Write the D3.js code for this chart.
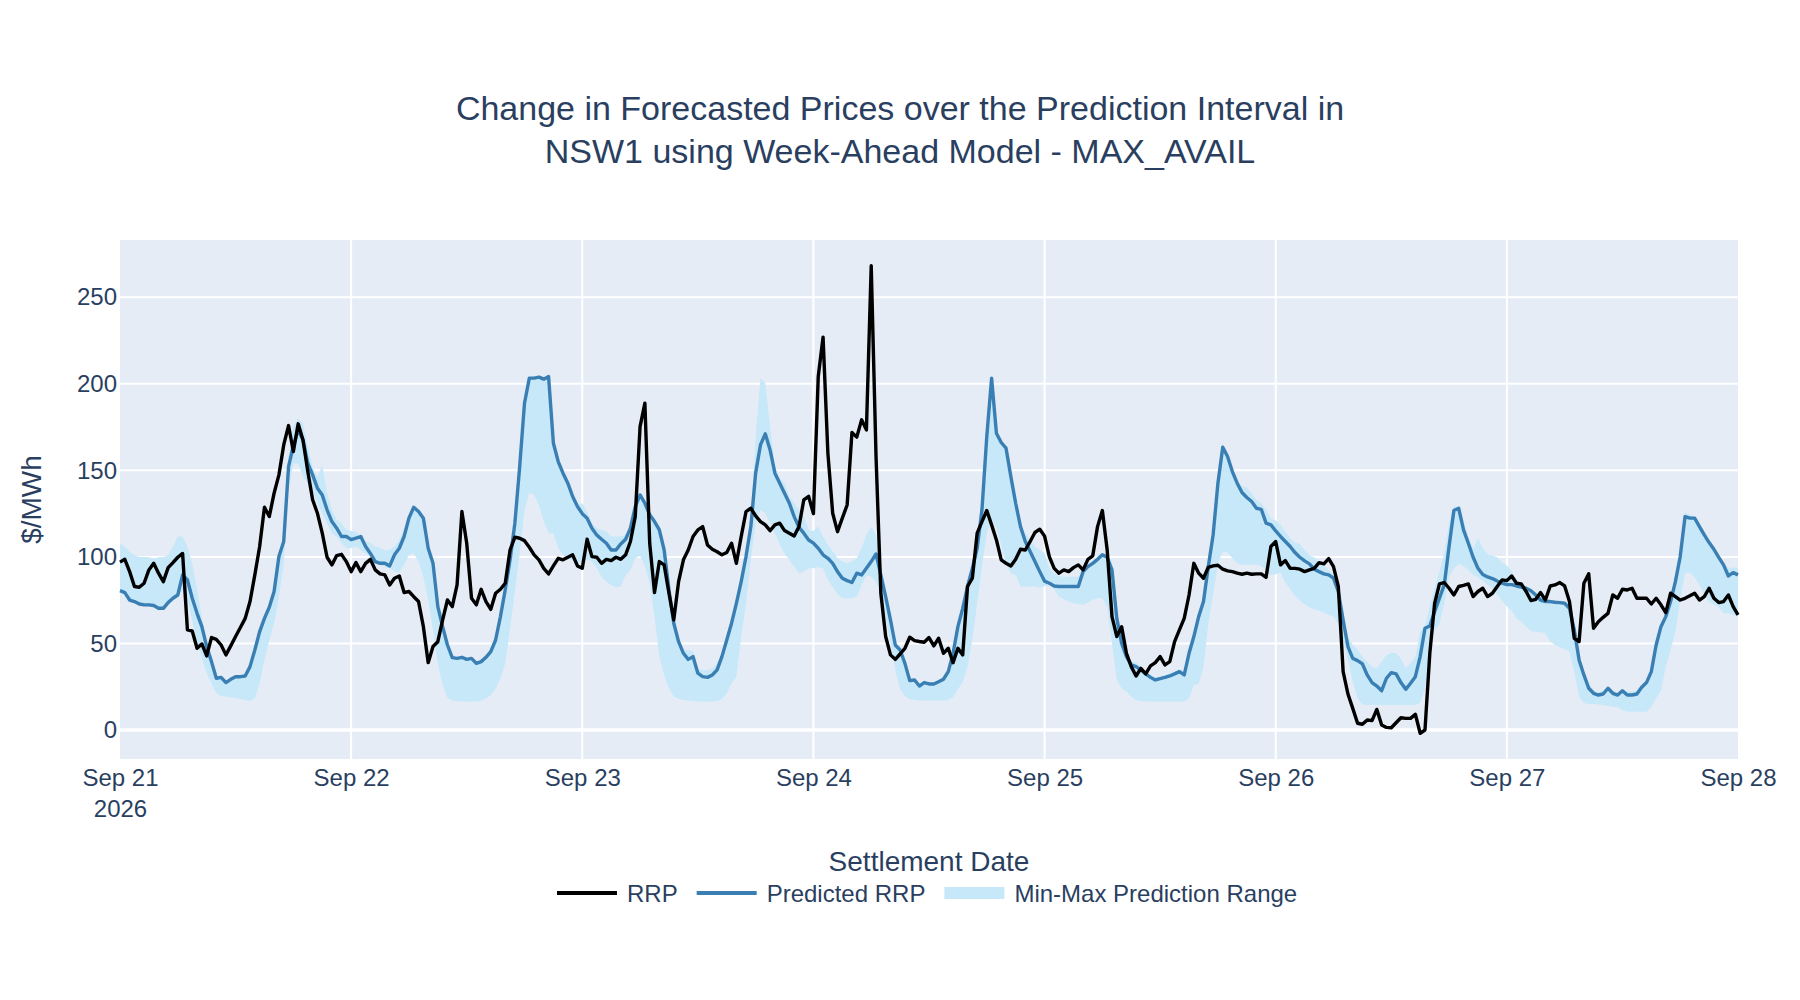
<!DOCTYPE html>
<html>
<head>
  <meta charset="utf-8">
  <script src="https://d3js.org/d3.v7.min.js"></script>
  <style>
    body {
      margin: 0;
      background: #fff;
      font-family: 'Liberation Sans', Arial, sans-serif;
    }
  </style>
</head>
<body>
  <div id="my_dataviz"></div>
  <script>
    // half-hourly values from Sep 21 00:00 to Sep 28 00:00, one row = 6 hours
    var rrp = [
      97, 98.6, 91.5, 82.9, 82.5, 84.8, 92.5, 96.3, 90.6, 85.7, 93.8, 96.7,
      99.8, 102, 57.8, 57.2, 47.2, 49.7, 42.8, 53.4, 52.4, 49.1, 43.4, 48.6,
      54, 59.2, 64.5, 74.2, 89.6, 106, 128.7, 123.3, 136.8, 147.4, 164.7, 175.9,
      160.9, 176.9, 167.6, 149.3, 133, 125.2, 113.7, 99.8, 95.4, 100.8, 101.5, 97.3,
      // Sep 22
      91.5, 96.7, 91.5, 96.3, 98.6, 92.5, 90.2, 89.6, 83.8, 87.7, 89, 79.4,
      80, 77, 74.2, 59.7, 38.9, 48.2, 51, 63.6, 75.1, 71.3, 83.8, 126.2,
      107.9, 76.1, 72.3, 81.3, 74.2, 69.7, 79, 81.3, 84.8, 104, 111.4, 110.8,
      109.4, 105.6, 101.2, 98.3, 93.4, 90.2, 94.8, 99.2, 98.3, 99.8, 101.2, 94.8,
      // Sep 23
      93.4, 110.2, 100.2, 99.8, 96.3, 98.6, 97.9, 99.8, 98.6, 101.2, 108.9, 123.3,
      175.3, 188.8, 107.9, 79.4, 97.3, 95.4, 79, 63.6, 85.7, 98.3, 104, 111.8,
      115.6, 117.5, 106.9, 104.4, 103, 101.2, 102.5, 107.9, 96.3, 111.8, 126.2, 128.1,
      123.7, 120.4, 118.5, 115.2, 118.5, 119.5, 115.2, 113.7, 112.1, 117.5, 133, 135,
      // Sep 24
      125, 204.2, 227, 160, 125.2, 114.6, 122.4, 130, 171.9, 169.2, 179.2, 173.4,
      268.2, 158, 79, 54, 43.4, 40.8, 43.9, 47.2, 53.6, 51.6, 51.1, 50.7,
      53.4, 48.6, 53, 44.3, 47.2, 38.9, 47.2, 43.4, 82.9, 87.7, 113.7, 120.4,
      126.8, 118.5, 109.8, 98.3, 96.3, 94.8, 98.6, 104.4, 104, 108.9, 114.1, 116,
      // Sep 25
      112, 100, 93.4, 90.6, 92.5, 91.5, 93.8, 95.4, 92.5, 98.6, 100.6, 117.5,
      126.8, 104, 65.5, 54, 59.7, 44.3, 36.6, 31.2, 35.6, 32.4, 37, 38.9,
      42.4, 37.6, 39.5, 51.1, 57.8, 64.5, 78, 96.3, 90.6, 87.7, 94, 94.8,
      95.2, 92.9, 91.9, 91.5, 90.6, 90, 90.6, 90, 90.2, 90.2, 88.2, 106,
      // Sep 26
      108.9, 95.4, 97.9, 93.4, 93.4, 92.9, 91.5, 92.5, 93.4, 96.7, 96, 99,
      94.4, 82.9, 33.7, 20.8, 12.5, 3.9, 3.3, 5.8, 5.4, 11.9, 2.9, 1.5,
      1.3, 4.2, 7.1, 6.7, 6.7, 9.1, -1.9, 0, 44.3, 73.2, 84.4, 85.2,
      81.9, 78, 82.9, 83.6, 84.4, 77.1, 80, 81.9, 77.1, 79, 82.9, 86.7,
      // Sep 27
      86.3, 89, 84.8, 84.4, 80, 74.8, 75.5, 79.4, 75.1, 83.2, 83.8, 85.2,
      83.2, 74.2, 53, 51.1, 84.8, 90.2, 58.8, 62.6, 65.1, 67.4, 78, 76.1,
      81.3, 80.9, 81.9, 76.1, 76.1, 76.1, 72.8, 76.1, 72.3, 67.8, 79, 77.1,
      75.1, 76.1, 77.5, 79, 75.1, 77.1, 81.9, 76.1, 73.6, 74.2, 78, 71.3,
      66.5
    ];

    var predicted = [
      80.5, 79.4, 75.1, 74.2, 72.8, 72.3, 72.3, 71.9, 70.3, 70.3, 73.6, 76.1,
      78, 89.6, 86.7, 76.1, 67.4, 59.7, 48.2, 39.5, 29.9, 30.4, 27.4, 29.3,
      30.8, 30.8, 31.2, 36.6, 46.2, 56.8, 64.5, 70.9, 80, 100.2, 108.9, 152.2,
      164.2, 173.4, 167.6, 154.1, 147.4, 139.7, 135.8, 127.2, 120.4, 116.6, 111.8, 111.8,
      // Sep 22
      110, 110.8, 111.8, 106, 102, 97.3, 96.3, 96.3, 94.8, 101.2, 105, 111.8,
      122.4, 128.7, 126.2, 122.4, 105, 96.3, 71.3, 59.7, 49.1, 41.8, 41.4, 42,
      40.8, 41.4, 38.5, 39.5, 42, 45.3, 52, 65.5, 81, 98.3, 119.5, 152.2,
      188.8, 203.3, 203.3, 203.9, 202.7, 204.2, 165.7, 155.1, 148.4, 142.6, 134.9, 129.1,
      // Sep 23
      125, 122.4, 116.6, 112.7, 110.2, 107.9, 104, 104, 107.5, 110.2, 116.6, 129.1,
      135.8, 131, 124.3, 120.4, 115.6, 104, 81, 61.7, 51, 44.3, 40.8, 42.4,
      32.8, 30.8, 30.4, 31.8, 34.7, 42.4, 52, 61.7, 73.2, 85.7, 100.2, 117.5,
      148.4, 164.7, 171.1, 161.8, 148.4, 142.6, 136.8, 131, 123.3, 117.1, 113.7, 109.8,
      // Sep 24
      108, 105, 101.2, 99.2, 96.3, 91.5, 87.7, 86.3, 85.2, 90.6, 89.6, 93.4,
      97.3, 101.7, 89.6, 77.1, 63.6, 49.1, 46.2, 38.5, 28.5, 28.9, 25.4, 27.4,
      26.6, 26.6, 27.9, 29.3, 33.7, 44.3, 59.7, 70.3, 82.9, 93.4, 105, 127.2,
      169.6, 203.3, 171.5, 166.1, 162.8, 146.4, 131, 117.5, 108.9, 103.1, 97.3, 91.5,
      // Sep 25
      86, 84.8, 83.2, 82.9, 82.9, 82.9, 82.9, 82.9, 91.5, 94.4, 96.3, 98.6,
      101.2, 99.8, 92.5, 64.5, 50.1, 42.4, 37.6, 36.6, 34.7, 32.4, 30.4, 28.9,
      29.7, 30.4, 31.2, 32.4, 33.7, 31.8, 44.3, 54, 65.5, 74.2, 94.4, 112.7,
      142.6, 163.4, 158, 149.3, 142.6, 137.2, 134.3, 132, 128.1, 127.5, 119.5, 118.5,
      // Sep 26
      115, 111.8, 108.9, 106, 102.5, 99.8, 97.7, 96, 92.9, 91.5, 90.2, 89.6,
      87.7, 80, 63.6, 48.2, 41.4, 40.1, 38.2, 31.8, 27.4, 25.4, 22.7, 29.9,
      33.1, 32.4, 27.4, 23.5, 27, 30.8, 42.4, 58.8, 60.1, 68.4, 76.1, 83.8,
      106, 126.8, 128.1, 115.6, 107.9, 99.8, 93.4, 89.8, 88.4, 87.5, 86.1, 84.8,
      // Sep 27
      84, 84, 83.2, 82.5, 81.9, 80.5, 78, 75.1, 74.2, 74.2, 73.8, 73.6,
      73.2, 70.3, 57.8, 40.5, 31.8, 24.1, 21.2, 20.2, 20.8, 24.1, 21.2, 20.2,
      22.7, 20.2, 20.2, 20.8, 24.7, 27.4, 33.7, 49.1, 59.7, 65.5, 74.2, 85.7,
      100.2, 123.3, 122.4, 122.4, 117.5, 112.7, 108.3, 104.4, 99.8, 95.4, 89, 90.9,
      89.6
    ];

    var rangeMax = [
      107.9, 106, 103, 101, 100, 100, 99.8, 99, 99.8, 100, 100.6, 106,
      111.8, 111.8, 106, 96, 81, 65.5, 52, 40.5, 30.8, 30.8, 28, 30,
      31.8, 31.8, 31.8, 37.6, 46.2, 56.8, 65.5, 73.2, 82, 100, 110, 158,
      175.3, 180, 177, 163.8, 152, 146, 153, 136.8, 127.2, 121.4, 119.5, 115.6,
      // Sep 22
      115, 114.6, 111.8, 108.9, 108, 106, 105, 104, 104, 106, 109.8, 115.6,
      124.3, 129.5, 126.2, 122.4, 105, 96.3, 71.3, 59.7, 49.1, 42.4, 42, 42.4,
      41.4, 42, 39.5, 40.5, 42.8, 46.2, 53, 66.5, 82, 99.2, 120.4, 153.1,
      189.6, 203.9, 203.9, 204.6, 203.9, 204.6, 166.7, 156, 149.3, 143.5, 135.8, 130,
      // Sep 23
      131, 126, 119.5, 116.6, 115.6, 114.6, 111.8, 111.8, 111.8, 112.7, 117.5, 130,
      137.2, 133, 126.2, 122.4, 117.5, 106, 83, 62.6, 52, 46.2, 46.2, 45.3,
      35.6, 34.7, 34.7, 35.6, 38.5, 44.3, 54, 63.6, 75.1, 87.7, 102, 119.5,
      169.6, 203.3, 200.4, 175.3, 152.2, 145.5, 142.6, 134.9, 131, 127.2, 123.3, 115.6,
      // Sep 24
      115, 117.5, 111.8, 106.9, 103.1, 99.2, 97.3, 96.3, 97.3, 99.2, 105, 112.7,
      117.5, 112.7, 92.5, 77.1, 64.5, 50.1, 47.2, 39.5, 29.3, 29.9, 27, 27.9,
      27.4, 27.4, 28.9, 30.4, 35, 46.2, 61.7, 72.3, 84.8, 95.4, 107, 128.1,
      170.5, 204.2, 172.6, 166.7, 163.8, 148.4, 133, 119.5, 113.7, 109.8, 106, 104,
      // Sep 25
      102, 93.4, 90.6, 89, 88.6, 88.6, 88.6, 88.6, 91.5, 94.8, 97.3, 99.8,
      102.1, 101.7, 96.3, 65.5, 51.1, 43.4, 39.5, 39.5, 35.6, 33.7, 31.8, 30.4,
      30.8, 31.8, 32.8, 33.7, 35.1, 33.7, 45.3, 55, 66.5, 75.1, 96.3, 114.6,
      144.5, 165.3, 160.3, 151.3, 144.5, 140.7, 140.1, 136.8, 133, 131, 127.2, 122.4,
      // Sep 26
      121, 118.5, 114.6, 110.8, 108.3, 107.5, 104, 100.6, 99.8, 96.3, 94.8, 92.5,
      89.6, 81.9, 65.5, 54, 49.1, 46.2, 42.4, 39.5, 36.6, 35.6, 39.5, 43.4,
      44.7, 44.3, 41.4, 35.6, 38.5, 42.4, 56.8, 60.1, 71.3, 81.9, 91.5, 102.1,
      119.5, 129.5, 128.1, 121.4, 111.8, 105, 110.8, 105, 101.7, 100.6, 99.8, 96.7,
      // Sep 27
      95, 91.5, 86.7, 83.8, 82.9, 81.3, 79.4, 77.1, 75.1, 74.6, 74.2, 74.2,
      74.2, 71.7, 59.7, 42.4, 32.8, 27, 23.1, 21.6, 23.1, 24.1, 22.7, 21.6,
      23.5, 22.2, 22.2, 22.7, 25.4, 28.5, 35.6, 52, 61.3, 66.5, 75.1, 87.7,
      103.1, 125.6, 124.3, 123.3, 118.5, 113.7, 109.4, 105.6, 100.6, 96.3, 93.4, 94,
      93.4
    ];

    var rangeMin = [
      80.5, 79, 75, 73.6, 72.3, 72.3, 71.3, 71.3, 69, 69.4, 72.3, 75,
      77, 81, 75, 63.6, 50, 41.4, 32.8, 27, 21.2, 19.7, 19.3, 18.9,
      18.5, 17.9, 17.3, 16.8, 18.3, 27, 40.5, 52, 61.7, 77, 96.3, 138.7,
      154, 154, 146.4, 142.6, 137.8, 131, 125.2, 119.5, 113.7, 111.8, 108, 105,
      // Sep 22
      105, 106, 104, 102, 100.6, 97.3, 95.4, 94, 93.4, 91.5, 91, 95.4,
      101.2, 102, 97.3, 88.6, 75.1, 57.8, 38.5, 26, 18.7, 17, 16.6, 16.4,
      16.4, 16.4, 16.4, 17, 18.3, 20.2, 24, 29.9, 38.5, 58.8, 80, 102,
      127.2, 137.2, 135.8, 130, 120.4, 113.7, 113.7, 105, 101.2, 99.2, 97.9, 96.7,
      // Sep 23
      97, 98.3, 97.3, 93.4, 88.6, 85.7, 83.8, 82.5, 82.9, 89.6, 92.5, 99.2,
      100.6, 94.4, 84.8, 65.5, 42.4, 31.8, 24.1, 19.3, 17.9, 17.3, 17, 16.8,
      16.4, 16.4, 16.4, 16.4, 16.8, 17.7, 21.2, 27, 30.8, 54, 73.2, 98.3,
      119.5, 127.2, 125.2, 119.5, 113.7, 107.5, 102, 98.3, 94.4, 90.6, 91.5, 93.4,
      // Sep 24
      93.5, 94, 93.4, 87, 82.5, 78.4, 76.1, 76.1, 76.1, 77.1, 83.8, 89.6,
      88.6, 85.7, 79, 65.5, 50.1, 34.7, 23.5, 19.7, 17.9, 17.3, 17, 17,
      17, 17, 17, 17, 17.3, 18.9, 23.5, 27.9, 36.6, 52, 73.2, 94.4,
      113.7, 121.4, 116.6, 107, 95.4, 90.6, 89.6, 82.9, 82.9, 82.9, 82.9, 82.3,
      // Sep 25
      83, 83.8, 81.3, 77.1, 75.5, 74.2, 73.2, 72.8, 72.3, 73.6, 75.1, 76.1,
      76.1, 71.3, 50.1, 28.9, 24.1, 22.2, 19.3, 17.3, 16.8, 16.4, 16.4, 16.4,
      16.4, 16.4, 16.4, 16.4, 16.4, 16.4, 18.3, 26, 26.6, 36.6, 61.7, 78,
      96.3, 103.1, 102.5, 99.2, 96.3, 95.4, 95.4, 95.4, 95.4, 94.8, 92.5, 89.6,
      // Sep 26
      90, 90.9, 85.2, 81.3, 77.5, 74.8, 72.6, 70.9, 69.8, 69, 67.8, 66.5,
      65.5, 61.7, 52, 40.5, 27.9, 18.3, 14.8, 14.5, 14.5, 14.5, 14.5, 14.5,
      14.5, 14.5, 14.5, 14.5, 14.5, 14.5, 15.8, 24.1, 46.2, 57.8, 61.3, 73.2,
      88.6, 93.4, 96, 94.8, 92.5, 89.6, 88.1, 86.3, 83.8, 81.9, 78, 74.6,
      // Sep 27
      71.3, 69, 64.5, 62.6, 59.7, 57.2, 56.8, 56.5, 56.1, 51.1, 49.1, 47.8,
      46.6, 45.3, 33.7, 19.3, 15.4, 15, 15, 14.8, 14.5, 13.9, 13.5, 13.1,
      11.6, 10.6, 10.6, 10.6, 10.6, 10.6, 13.5, 18.3, 22.7, 36.6, 46.2, 56.8,
      75.1, 90.6, 90.9, 88.2, 83.8, 78.6, 73.6, 72.3, 70.9, 67.4, 67.4, 66.5,
      65.5
    ];

    var dayLabels = ["Sep 21", "Sep 22", "Sep 23", "Sep 24", "Sep 25", "Sep 26", "Sep 27", "Sep 28"];
    var yearLabel = "2026";
    var yTicks = [0, 50, 100, 150, 200, 250];
    var seriesNames = ["RRP", "Predicted RRP", "Min-Max Prediction Range"];

    var colRRP = "#000000",
      colPred = "#3a7fb4",
      colBand = "#c6e8f8",
      colText = "#2a3f5f";

    // set the dimensions and margins of the graph
    var margin = {
        top: 240,
        right: 62,
        bottom: 241,
        left: 120
      },
      width = 1800 - margin.left - margin.right,
      height = 1000 - margin.top - margin.bottom;

    var start = new Date(2026, 8, 21),
      end = new Date(2026, 8, 28);
    var times = rrp.map(function (d, i) {
      return d3.timeMinute.offset(start, 30 * i);
    });

    var svgRoot = d3.select("#my_dataviz")
      .append("svg")
      .attr("width", 1800)
      .attr("height", 1000)
      .style("font-family", "'Liberation Sans', Arial, sans-serif");

    var svg = svgRoot.append("g")
      .attr("transform", "translate(" + margin.left + "," + margin.top + ")");

    var x = d3.scaleTime()
      .domain([start, end])
      .range([0, width]);

    var y = d3.scaleLinear()
      .domain([-16.76, 283.1])
      .range([height, 0]);

    // plot background
    svg.append("rect")
      .attr("width", width)
      .attr("height", height)
      .attr("fill", "#e5ecf6");

    // grid lines
    var dayTicks = d3.timeDay.range(start, d3.timeDay.offset(end, 1));
    svg.selectAll("vgrid")
      .data(dayTicks.slice(1, -1))
      .enter()
      .append("line")
      .attr("x1", function (d) { return x(d); })
      .attr("x2", function (d) { return x(d); })
      .attr("y1", 0)
      .attr("y2", height)
      .attr("stroke", "#fff")
      .attr("stroke-width", 2);

    svg.selectAll("hgrid")
      .data(yTicks)
      .enter()
      .append("line")
      .attr("x1", 0)
      .attr("x2", width)
      .attr("y1", function (d) { return y(d); })
      .attr("y2", function (d) { return y(d); })
      .attr("stroke", "#fff")
      .attr("stroke-width", function (d) { return d === 0 ? 3.5 : 2; });

    // min-max band
    var band = d3.area()
      .x(function (d, i) { return x(times[i]); })
      .y0(function (d, i) { return y(rangeMin[i]); })
      .y1(function (d, i) { return y(rangeMax[i]); });
    svg.append("path")
      .datum(rangeMax)
      .attr("d", band)
      .attr("fill", colBand);

    var line = function (values) {
      return d3.line()
        .x(function (d, i) { return x(times[i]); })
        .y(function (d) { return y(d); })(values);
    };

    svg.append("path")
      .attr("d", line(predicted))
      .attr("fill", "none")
      .attr("stroke", colPred)
      .attr("stroke-width", 3.4)
      .attr("stroke-linejoin", "round");

    svg.append("path")
      .attr("d", line(rrp))
      .attr("fill", "none")
      .attr("stroke", colRRP)
      .attr("stroke-width", 3.4)
      .attr("stroke-linejoin", "round");

    // X axis
    var xAxis = svg.append("g")
      .attr("transform", "translate(0," + height + ")")
      .call(d3.axisBottom(x)
        .tickValues(dayTicks)
        .tickSize(0)
        .tickPadding(10)
        .tickFormat(function (d, i) { return dayLabels[i]; }));
    xAxis.select(".domain").remove();
    xAxis.selectAll("text")
      .attr("fill", colText)
      .style("font-size", "24px")
      .style("font-family", "'Liberation Sans', Arial, sans-serif");
    xAxis.select(".tick text")
      .append("tspan")
      .attr("x", 0)
      .attr("dy", "1.28em")
      .text(yearLabel);

    // Y axis
    var yAxis = svg.append("g")
      .call(d3.axisLeft(y)
        .tickValues(yTicks)
        .tickSize(0)
        .tickPadding(3));
    yAxis.select(".domain").remove();
    yAxis.selectAll("text")
      .attr("fill", colText)
      .style("font-size", "24px")
      .style("font-family", "'Liberation Sans', Arial, sans-serif");

    // axis titles
    svgRoot.append("text")
      .attr("x", margin.left + width / 2)
      .attr("y", 871)
      .attr("text-anchor", "middle")
      .attr("fill", colText)
      .style("font-size", "28px")
      .text("Settlement Date");

    svgRoot.append("text")
      .attr("transform", "translate(41," + (margin.top + height / 2) + ")rotate(-90)")
      .attr("text-anchor", "middle")
      .attr("fill", colText)
      .style("font-size", "28px")
      .text("$/MWh");

    // title
    var title = svgRoot.append("text")
      .attr("text-anchor", "middle")
      .attr("fill", colText)
      .style("font-size", "34px");
    title.append("tspan")
      .attr("x", 900)
      .attr("y", 120)
      .text("Change in Forecasted Prices over the Prediction Interval in");
    title.append("tspan")
      .attr("x", 900)
      .attr("y", 163)
      .text("NSW1 using Week-Ahead Model - MAX_AVAIL");

    // legend
    var legend = svgRoot.append("g")
      .attr("transform", "translate(557,893)");
    var lx = 0;
    seriesNames.forEach(function (name, i) {
      var item = legend.append("g").attr("transform", "translate(" + lx + ",0)");
      if (i < 2) {
        item.append("line")
          .attr("x1", 0)
          .attr("x2", 60)
          .attr("y1", 0)
          .attr("y2", 0)
          .attr("stroke", i === 0 ? colRRP : colPred)
          .attr("stroke-width", 4);
      } else {
        item.append("rect")
          .attr("x", 0)
          .attr("y", -6)
          .attr("width", 60)
          .attr("height", 12)
          .attr("fill", colBand);
      }
      var t = item.append("text")
        .attr("x", 70)
        .attr("y", 8.5)
        .attr("fill", colText)
        .style("font-size", "24px")
        .text(name);
      lx += 70 + t.node().getComputedTextLength() + 19;
    });
  </script>
</body>
</html>
